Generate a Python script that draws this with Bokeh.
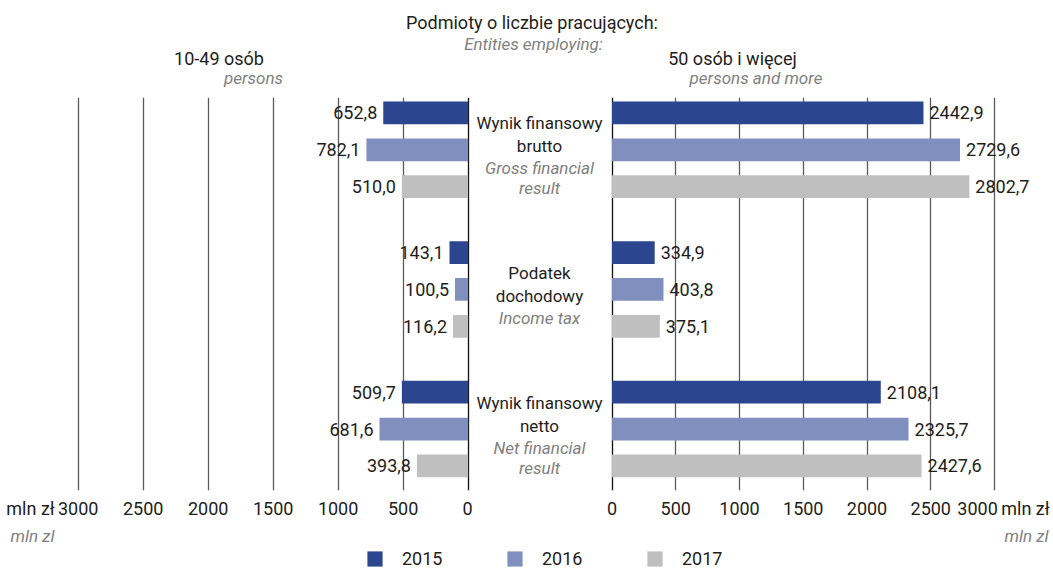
from bokeh.plotting import figure
from bokeh.models import (Range1d, LinearAxis, FixedTicker, Grid, ColumnDataSource,
                          Legend, LegendItem)
from bokeh.layouts import column, row
from bokeh.transform import dodge
from bokeh.core.properties import value
from bokeh.embed import file_html
from bokeh.resources import INLINE

# ---------------- data ----------------
categories_pl = ["Wynik finansowy\nbrutto", "Podatek\ndochodowy", "Wynik finansowy\nnetto"]
categories_en = ["Gross financial\nresult", "Income tax", "Net financial\nresult"]
years = ["2015", "2016", "2017"]
# 10-49 persons
small_2015 = [652.8, 143.1, 509.7]
small_2016 = [782.1, 100.5, 681.6]
small_2017 = [510.0, 116.2, 393.8]
# 50 persons and more
large_2015 = [2442.9, 334.9, 2108.1]
large_2016 = [2729.6, 403.8, 2325.7]
large_2017 = [2802.7, 375.1, 2427.6]
tick_values = [0, 500, 1000, 1500, 2000, 2500, 3000]

colors = ["#2B458F", "#808FBD", "#BFBFBF"]
FONT = "Roboto"
BLACK = "#1d1d1b"
GREY = "#808080"

def fmt(v):
    return f"{v:.1f}".replace(".", ",")

small = [small_2015, small_2016, small_2017]
large = [large_2015, large_2016, large_2017]
offsets = [-0.264, 0.0, 0.264]
BAR_H = 0.163

sources = []
for i in range(3):
    sources.append(ColumnDataSource(dict(
        g=list(range(len(categories_pl))),
        small=small[i], large=large[i],
        small_lbl=[fmt(v) for v in small[i]],
        large_lbl=[fmt(v) for v in large[i]],
    )))

# ---------------- layout constants (page origin at 0,0) ----------------
FRAME_H = 393
Y_RANGE = (2.4405, -0.3747)
# left panel: value 0 at page x 467.6, 3000 at 77.7 ; frame spans 0..470
L0, L3 = 467.6, 77.7
lk = 3000 / (L0 - L3)
left_range = Range1d(start=L0 * lk, end=(L0 - 470) * lk)
# right panel: value 0 at page x 611.5, 3000 at 994 ; frame spans 610..1053
R0, R3 = 611.5, 994.0
rk = 3000 / (R3 - R0)
right_range = Range1d(start=(610 - R0) * rk, end=(1053 - R0) * rk)


def base_fig(**kw):
    opts = dict(toolbar_location=None, output_backend="svg",
                x_axis_location=None, y_axis_location=None,
                outline_line_color=None, min_border_top=0, min_border_bottom=0,
                min_border_left=0, min_border_right=0,
                background_fill_color="white", border_fill_color="white")
    opts.update(kw)
    p = figure(**opts)
    p.xgrid.visible = False
    p.ygrid.visible = False
    return p


def add_grids(p):
    p.add_layout(Grid(dimension=0, ticker=FixedTicker(ticks=tick_values[1:]),
                      grid_line_color="#5a5a5a", grid_line_width=1.3))
    p.add_layout(Grid(dimension=0, ticker=FixedTicker(ticks=[0]),
                      grid_line_color="#111111", grid_line_width=1.3))


def style_axis(ax, size, color, italic=False, standoff=7):
    ax.axis_line_color = None
    ax.major_tick_line_color = None
    ax.minor_tick_line_color = None
    ax.major_tick_out = 0
    ax.major_tick_in = 0
    ax.major_label_standoff = standoff
    ax.major_label_text_font = FONT
    ax.major_label_text_font_size = size
    ax.major_label_text_color = color
    if italic:
        ax.major_label_text_font_style = "italic"


# ---------------- left panel (10-49) ----------------
left = base_fig(frame_width=470, frame_height=FRAME_H, x_range=left_range,
                y_range=Range1d(*Y_RANGE), min_border_right=2)
add_grids(left)
for i in range(3):
    left.hbar(y=dodge("g", offsets[i]), left=0, right="small", height=BAR_H,
              fill_color=colors[i], line_color=None, source=sources[i])
    left.text(x="small", y=dodge("g", offsets[i]), text="small_lbl", source=sources[i],
              text_align="right", text_baseline="middle", x_offset=-6,
              text_font=value(FONT), text_font_size="18px", text_color=BLACK)
lx_unit = round((L0 - 30) * lk)
lx_unit2 = round((L0 - 32) * lk)
ax1 = LinearAxis(ticker=FixedTicker(ticks=tick_values + [lx_unit]),
                 major_label_overrides={lx_unit: "mln zł"})
style_axis(ax1, "18px", BLACK)
ax2 = LinearAxis(ticker=FixedTicker(ticks=[lx_unit2]),
                 major_label_overrides={lx_unit2: "mln zl"})
style_axis(ax2, "17px", GREY, italic=True, standoff=4)
left.add_layout(ax1, "below")
left.add_layout(ax2, "below")

# ---------------- middle labels ----------------
mid = base_fig(frame_width=134, frame_height=FRAME_H, x_range=Range1d(0, 1),
               y_range=Range1d(*Y_RANGE), min_border_bottom=52)
n_pl = [c.count("\n") + 1 for c in categories_pl]
n_en = [c.count("\n") + 1 for c in categories_en]
pl_top = [6.5 - (a * 23 + b * 20) / 2 for a, b in zip(n_pl, n_en)]
en_top = [t + a * 23 - 1 for t, a in zip(pl_top, n_pl)]
msrc = ColumnDataSource(dict(x=[0.5] * 3, y=list(range(3)), pl=categories_pl,
                             en=categories_en, pl_off=pl_top, en_off=en_top))
mid.text(x="x", y="y", text="pl", y_offset="pl_off", source=msrc,
         text_align="center", text_baseline="top", text_line_height=1.15,
         text_font=value(FONT), text_font_size="17px", text_color=BLACK)
mid.text(x="x", y="y", text="en", y_offset="en_off", source=msrc,
         text_align="center", text_baseline="top", text_line_height=1.0,
         text_font=value(FONT), text_font_size="17px", text_font_style="italic",
         text_color=GREY)

# ---------------- right panel (50+) ----------------
right = base_fig(frame_width=443, frame_height=FRAME_H, x_range=right_range,
                 y_range=Range1d(*Y_RANGE), min_border_left=4)
add_grids(right)
for i in range(3):
    right.hbar(y=dodge("g", offsets[i]), left=0, right="large", height=BAR_H,
               fill_color=colors[i], line_color=None, source=sources[i])
    right.text(x="large", y=dodge("g", offsets[i]), text="large_lbl", source=sources[i],
               text_align="left", text_baseline="middle", x_offset=6,
               text_font=value(FONT), text_font_size="18px", text_color=BLACK)
r3000 = round((977 - R0) * rk)
rx_unit = round((1025 - R0) * rk)
rx_unit2 = round((1026 - R0) * rk)
ax3 = LinearAxis(ticker=FixedTicker(ticks=tick_values[:-1] + [r3000, rx_unit]),
                 major_label_overrides={r3000: str(tick_values[-1]), rx_unit: "mln zł"})
style_axis(ax3, "18px", BLACK)
ax4 = LinearAxis(ticker=FixedTicker(ticks=[rx_unit2]),
                 major_label_overrides={rx_unit2: "mln zl"})
style_axis(ax4, "17px", GREY, italic=True, standoff=4)
right.add_layout(ax3, "below")
right.add_layout(ax4, "below")

# ---------------- header texts ----------------
head = base_fig(width=1053, height=97, x_range=Range1d(0, 1053), y_range=Range1d(97, 0))
hsrc = ColumnDataSource(dict(
    x=[531.5, 218.5, 732.0],
    y=[22, 58, 58],
    t=["Podmioty o liczbie pracujących:", "10-49 osób", "50 osób i więcej"],
))
head.text(x="x", y="y", text="t", source=hsrc, text_align="center",
          text_baseline="middle", text_font=value(FONT), text_font_size="18px",
          text_color=BLACK)
hsrc2 = ColumnDataSource(dict(
    x=[533.0, 253.0, 755.5],
    y=[43, 77, 77],
    t=["Entities employing:", "persons", "persons and more"],
))
head.text(x="x", y="y", text="t", source=hsrc2, text_align="center",
          text_baseline="middle", text_font=value(FONT), text_font_size="17px",
          text_font_style="italic", text_color=GREY)

# ---------------- legend ----------------
leg = base_fig(width=1053, height=24, x_range=Range1d(0, 1), y_range=Range1d(0, 1))
items = []
for i, yr in enumerate(years):
    r = leg.vbar(x=[5], top=[5], width=0.1, fill_color=colors[i], line_color=None)
    items.append(LegendItem(label=yr, renderers=[r]))
legend = Legend(items=items, orientation="horizontal", location=(365, 3),
                glyph_width=19, glyph_height=19, label_standoff=18, spacing=0,
                label_width=103, label_height=19, padding=0, margin=0,
                border_line_color=None, background_fill_alpha=0,
                label_text_font=FONT, label_text_font_size="18px",
                label_text_color=BLACK)
leg.add_layout(legend, "center")

layout = column(head, row(left, mid, right), leg)
open("out.html", "w").write(file_html(layout, INLINE))
